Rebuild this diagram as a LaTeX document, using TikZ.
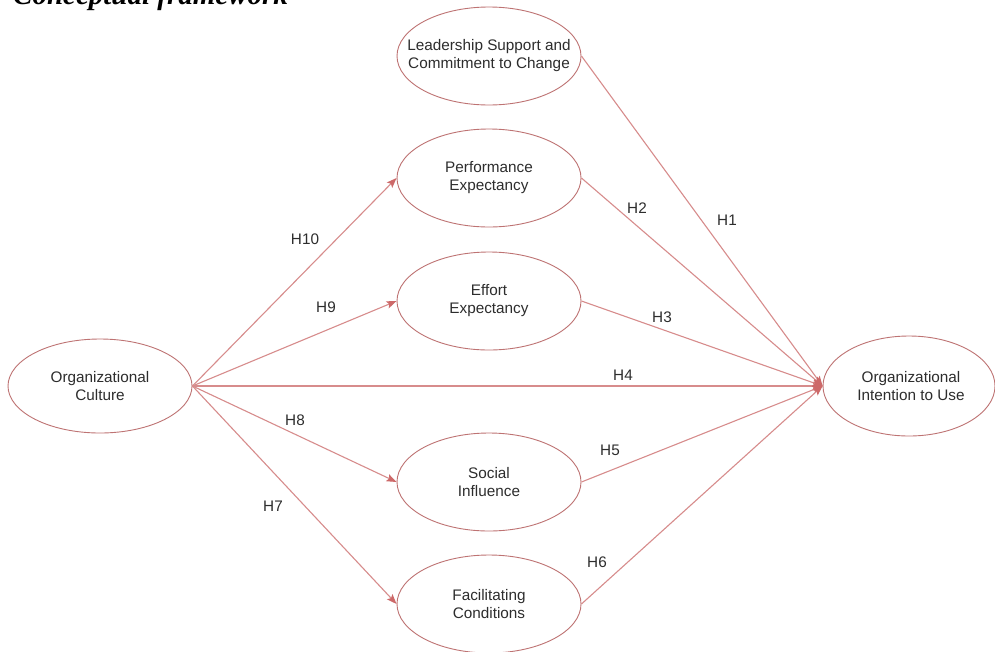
\documentclass[tikz,border=0pt]{standalone}
\usepackage{fontspec}
\setmainfont{Liberation Sans}
\newfontfamily\titlefont{Liberation Serif}
\usetikzlibrary{arrows.meta,shapes.geometric}
\definecolor{ovalline}{RGB}{190,115,115}
\definecolor{linkline}{RGB}{215,140,140}
\definecolor{tipcol}{RGB}{205,105,105}
\definecolor{txtcol}{RGB}{45,45,45}
\tikzset{
  oval/.style={ellipse, draw=ovalline, line width=0.9pt, fill=white, minimum width=184pt, minimum height=98pt, inner sep=0pt},
  ovaltext/.style={align=center, text=txtcol, font=\fontsize{15.3}{18}\selectfont, inner sep=0pt},
  hlabel/.style={text=txtcol, font=\fontsize{15.3}{18}\selectfont, inner sep=0pt},
  link/.style={draw=linkline, line width=1.1pt, -{Stealth[length=10pt,width=7.5pt,inset=2pt,color=tipcol]}},
}
\begin{document}
\begin{tikzpicture}[x=1pt,y=-1pt]
\useasboundingbox (0,0) rectangle (995,651);
\clip (0,0) rectangle (995,651);
\fill[white] (0,0) rectangle (995,651);
% cropped title
\node[anchor=base west, inner sep=0pt, text=black, font=\titlefont\bfseries\itshape\fontsize{29}{32}\selectfont] (title) at (13,4.5) {Conceptual framework};
% ellipses
\node[oval] (ls) at (489,56) {};
\node[oval] (pe) at (489,178) {};
\node[oval] (ee) at (489,301) {};
\node[oval] (si) at (489,482) {};
\node[oval] (fc) at (489,604) {};
\node[oval, minimum height=94pt] (oc) at (100,386) {};
\node[oval, minimum width=172pt, minimum height=100pt] (oi) at (909,386) {};
% connectors
\draw[link] (oc.east) -- (pe.west);
\draw[link] (oc.east) -- (ee.west);
\draw[link] (oc.east) -- (si.west);
\draw[link] (oc.east) -- (fc.west);
\draw[link] (oc.east) -- (oi.west);
\draw[link] (ls.east) -- (oi.west);
\draw[link] (pe.east) -- (oi.west);
\draw[link] (ee.east) -- (oi.west);
\draw[link] (si.east) -- (oi.west);
\draw[link] (fc.east) -- (oi.west);
% texts
\node[ovaltext] (ls-t) at (ls) {Leadership Support and\\Commitment to Change};
\node[ovaltext] (pe-t) at (pe) {Performance\\Expectancy};
\node[ovaltext] (ee-t) at (ee) {Effort\\Expectancy};
\node[ovaltext] (si-t) at (si) {Social\\Influence};
\node[ovaltext] (fc-t) at (fc) {Facilitating\\Conditions};
\node[ovaltext] (oc-t) at (oc) {Organizational\\Culture};
\node[ovaltext] (oi-t) at (911,386) {Organizational\\Intention to Use};
% labels
\node[hlabel] (h1) at (727,220) {H1};
\node[hlabel] (h2) at (637,208) {H2};
\node[hlabel] (h3) at (662,317) {H3};
\node[hlabel] (h4) at (623,375) {H4};
\node[hlabel] (h5) at (610,450) {H5};
\node[hlabel] (h6) at (597,562) {H6};
\node[hlabel] (h7) at (273,506) {H7};
\node[hlabel] (h8) at (295,420) {H8};
\node[hlabel] (h9) at (326,307) {H9};
\node[hlabel] (h10) at (305,239) {H10};
\end{tikzpicture}
\end{document}
